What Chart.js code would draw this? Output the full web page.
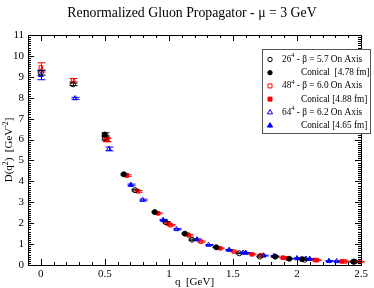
<!DOCTYPE html>
<html>
<head>
<meta charset="utf-8">
<script src="https://cdn.jsdelivr.net/npm/chart.js@4.4.1/dist/chart.umd.min.js"></script>
<style>
  html, body { margin: 0; padding: 0; background: #fff; }
  canvas { display: block; }
</style>
</head>
<body>
<canvas id="myChart" width="374" height="288"></canvas>
<script>
// tick labels
const xTicks = [0, 0.5, 1, 1.5, 2, 2.5];
const yTicks = [0, 1, 2, 3, 4, 5, 6, 7, 8, 9, 10, 11];

// 26^4 beta=5.7
const q26Axis = [0, 0.252, 0.50, 0.735, 0.975, 1.18, 1.55, 1.71, 2.06, 2.45];
const d26Axis = [9.2, 8.64, 6.08, 3.58, 2.05, 1.21, 0.56, 0.40, 0.25, 0.16];
const e26Axis = [0.12, 0.06, 0.10, 0.04, 0.03, 0.03, 0.02, 0.02, 0.02, 0.02];
const q26Con = [0.50, 0.648, 0.89, 1.125, 1.37, 1.83, 1.94, 2.04, 2.44];
const d26Con = [6.24, 4.34, 2.53, 1.50, 0.85, 0.40, 0.30, 0.28, 0.16];
const e26Con = [0.08, 0.04, 0.03, 0.03, 0.02, 0.02, 0.02, 0.02, 0.02];

// 48^4 beta=6.0
const q48Axis = [0, 0.252, 0.51, 0.76, 1.013, 1.25, 1.51, 1.72, 1.92, 2.14, 2.375];
const d48Axis = [9.45, 8.84, 6.00, 3.52, 1.90, 1.12, 0.64, 0.47, 0.32, 0.24, 0.17];
const e48Axis = [0.22, 0.08, 0.10, 0.04, 0.03, 0.03, 0.02, 0.02, 0.02, 0.02, 0.02];
const q48Con = [0.52, 0.672, 0.915, 0.995, 1.155, 1.40, 1.65, 1.89, 2.155, 2.35, 2.49];
const d48Con = [5.98, 4.28, 2.47, 1.97, 1.42, 0.80, 0.51, 0.35, 0.23, 0.17, 0.15];
const e48Con = [0.08, 0.04, 0.03, 0.03, 0.03, 0.02, 0.02, 0.02, 0.02, 0.02, 0.02];

// 64^4 beta=6.2
const q64Axis = [0, 0.268, 0.532, 0.795, 1.06, 1.31, 1.58, 1.82, 2.07, 2.31];
const d64Axis = [9.08, 7.97, 5.55, 3.11, 1.71, 0.96, 0.59, 0.43, 0.30, 0.18];
const e64Axis = [0.22, 0.05, 0.09, 0.04, 0.03, 0.02, 0.02, 0.02, 0.02, 0.02];
const q64Con = [0.703, 0.955, 1.22, 1.47, 1.60, 1.74, 2.0, 2.10, 2.25];
const d64Con = [3.83, 2.15, 1.22, 0.72, 0.58, 0.45, 0.32, 0.29, 0.19];
const e64Con = [0.04, 0.03, 0.03, 0.02, 0.02, 0.02, 0.02, 0.02, 0.02];

const SERIF = '"Liberation Serif", "DejaVu Serif", serif';

function pts(qs, ds) {
    return qs.map((q, i) => ({ x: q, y: ds[i] }));
}

function makeSet(label, qs, ds, errs, color, style, filled) {
    return {
        label: label,
        data: pts(qs, ds),
        errors: errs,
        borderColor: color,
        backgroundColor: filled ? color : 'rgba(0,0,0,0)',
        pointStyle: style,
        pointRadius: style === 'triangle' ? 2.8 : 2.5,
        pointBorderWidth: 1,
        showLine: false
    };
}

const datasets = [
    makeSet('26 On Axis', q26Axis, d26Axis, e26Axis, '#000000', 'circle', false),
    makeSet('26 Conical', q26Con, d26Con, e26Con, '#000000', 'circle', true),
    makeSet('48 On Axis', q48Axis, d48Axis, e48Axis, '#ff0000', 'rect', false),
    makeSet('48 Conical', q48Con, d48Con, e48Con, '#ff0000', 'rect', true),
    makeSet('64 On Axis', q64Axis, d64Axis, e64Axis, '#0000ff', 'triangle', false),
    makeSet('64 Conical', q64Con, d64Con, e64Con, '#0000ff', 'triangle', true)
];

const legendRows = [
    { lat: '26', rest: ' - \u03b2 = 5.7 On Axis' },
    { con: 'Conical  [4.78 fm]' },
    { lat: '48', rest: ' - \u03b2 = 6.0 On Axis' },
    { con: 'Conical [4.88 fm]' },
    { lat: '64', rest: ' - \u03b2 = 6.2 On Axis' },
    { con: 'Conical [4.65 fm]' }
];

// draws text parts with superscripts, returns width
function richText(ctx, parts, x, y, size, align) {
    let total = 0;
    parts.forEach(p => {
        ctx.font = (p.sup ? size * 0.7 : size) + 'px ' + SERIF;
        total += ctx.measureText(p.t).width;
    });
    let cx = align === 'center' ? x - total / 2 : x;
    parts.forEach(p => {
        ctx.font = (p.sup ? size * 0.7 : size) + 'px ' + SERIF;
        ctx.fillText(p.t, cx, p.sup ? y - size * 0.4 : y);
        cx += ctx.measureText(p.t).width;
    });
    return total;
}

function marker(ctx, style, filled, color, x, y) {
    ctx.save();
    ctx.strokeStyle = color;
    ctx.fillStyle = color;
    ctx.lineWidth = 1;
    ctx.beginPath();
    if (style === 'circle') {
        ctx.arc(x, y, 2.2, 0, Math.PI * 2);
    } else if (style === 'rect') {
        ctx.rect(x - 2, y - 2, 4, 4);
    } else {
        ctx.moveTo(x, y - 2.8);
        ctx.lineTo(x + 2.6, y + 1.6);
        ctx.lineTo(x - 2.6, y + 1.6);
        ctx.closePath();
    }
    if (filled) ctx.fill();
    ctx.stroke();
    ctx.restore();
}

const decor = {
    id: 'decor',
    beforeDatasetsDraw(chart) {
        const ctx = chart.ctx;
        const xs = chart.scales.x, ys = chart.scales.y;
        ctx.save();
        ctx.lineWidth = 1;
        chart.data.datasets.forEach(ds => {
            ctx.strokeStyle = ds.borderColor;
            ds.data.forEach((p, i) => {
                const x = Math.round(xs.getPixelForValue(p.x)) + 0.5;
                const y1 = ys.getPixelForValue(p.y + ds.errors[i]);
                const y2 = ys.getPixelForValue(p.y - ds.errors[i]);
                ctx.beginPath();
                ctx.moveTo(x, y1); ctx.lineTo(x, y2);
                ctx.moveTo(x - 4, y1); ctx.lineTo(x + 4, y1);
                ctx.moveTo(x - 4, y2); ctx.lineTo(x + 4, y2);
                ctx.stroke();
            });
        });
        ctx.restore();
    },
    afterDraw(chart) {
        const ctx = chart.ctx;
        const a = chart.chartArea;
        const xs = chart.scales.x, ys = chart.scales.y;
        ctx.save();
        ctx.strokeStyle = '#000';
        ctx.fillStyle = '#000';
        ctx.lineWidth = 1;
        ctx.strokeRect(a.left + 0.5, a.top + 0.5, a.right - a.left, a.bottom - a.top);

        // ticks
        ctx.beginPath();
        for (let i = -1; i <= 25; i++) {
            const x = Math.round(xs.getPixelForValue(i / 10)) + 0.5;
            const len = i % 5 === 0 ? 6 : 3;
            ctx.moveTo(x, a.bottom); ctx.lineTo(x, a.bottom - len);
            ctx.moveTo(x, a.top); ctx.lineTo(x, a.top + len);
        }
        for (let i = 0; i <= 110; i++) {
            const y = Math.round(ys.getPixelForValue(i / 10)) + 0.5;
            const len = i % 10 === 0 ? 6 : 3;
            ctx.moveTo(a.left, y); ctx.lineTo(a.left + len, y);
            ctx.moveTo(a.right, y); ctx.lineTo(a.right - len, y);
        }
        ctx.stroke();

        // tick labels
        ctx.font = '11px ' + SERIF;
        ctx.textAlign = 'center';
        ctx.textBaseline = 'alphabetic';
        xTicks.forEach(v => ctx.fillText(String(v), xs.getPixelForValue(v), a.bottom + 12));
        ctx.textAlign = 'right';
        ctx.textBaseline = 'middle';
        yTicks.forEach(v => ctx.fillText(String(v), a.left - 4, ys.getPixelForValue(v)));

        // title and axis titles
        ctx.textBaseline = 'alphabetic';
        ctx.textAlign = 'center';
        ctx.font = '13.8px ' + SERIF;
        ctx.fillText('Renormalized Gluon Propagator - \u03bc = 3 GeV', 192, 17);
        ctx.font = '11px ' + SERIF;
        ctx.fillText('q  [GeV]', (a.left + a.right) / 2, 285);

        ctx.save();
        ctx.translate(12, (a.top + a.bottom) / 2);
        ctx.rotate(-Math.PI / 2);
        ctx.textAlign = 'left';
        richText(ctx, [{ t: 'D(q' }, { t: '2', sup: true }, { t: ')  [GeV' }, { t: '-2', sup: true }, { t: ']' }], 0, 0, 11, 'center');
        ctx.restore();

        // legend
        const bx = 262, by = 49, bw = 108, bh = 84;
        ctx.fillStyle = '#fff';
        ctx.fillRect(bx, by, bw, bh);
        ctx.strokeStyle = '#555';
        ctx.strokeRect(bx + 0.5, by + 0.5, bw, bh);
        ctx.fillStyle = '#000';
        ctx.textAlign = 'left';
        ctx.textBaseline = 'middle';
        legendRows.forEach((r, i) => {
            const y = 59.5 + i * 13.2;
            const ds = chart.data.datasets[i];
            marker(ctx, ds.pointStyle, ds.backgroundColor !== 'rgba(0,0,0,0)', ds.borderColor, 270, y);
            if (r.lat) {
                richText(ctx, [{ t: r.lat }, { t: '4', sup: true }, { t: r.rest }], 282, y, 9.3, 'left');
            } else {
                ctx.font = '9.3px ' + SERIF;
                ctx.fillText(r.con, 301, y);
            }
        });
        ctx.restore();
    }
};

new Chart(document.getElementById('myChart'), {
    type: 'scatter',
    data: { datasets: datasets },
    options: {
        responsive: false,
        animation: false,
        devicePixelRatio: 1,
        layout: { padding: { left: 28, right: 13, top: 35, bottom: 23 } },
        plugins: {
            legend: { display: false },
            tooltip: { enabled: false }
        },
        scales: {
            x: { type: 'linear', min: -0.1, max: 2.5, display: false },
            y: { type: 'linear', min: 0, max: 11, display: false }
        }
    },
    plugins: [decor]
});
</script>
</body>
</html>
